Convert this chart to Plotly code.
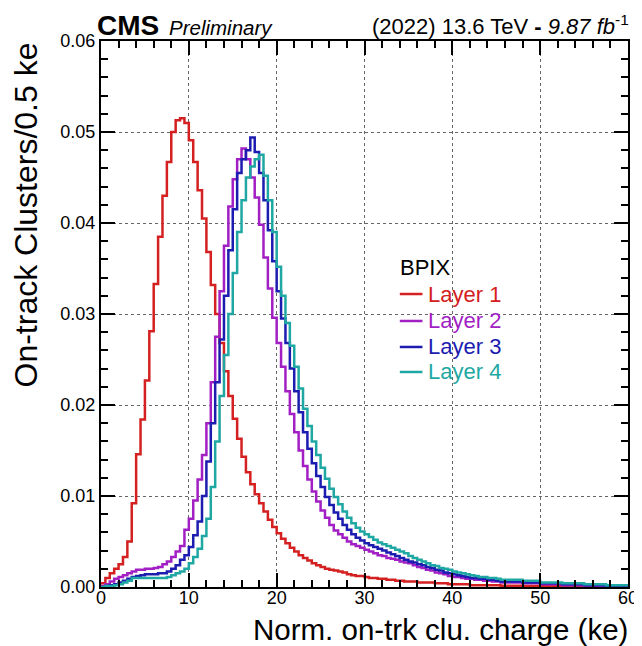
import plotly.graph_objects as go

# Bin edges: 0.5 ke bins from 0 to 60 ke
bin_width = 0.5
n_bins = 120
edges = [i * bin_width for i in range(n_bins + 1)]

layer1 = [
    0.0004, 0.0010, 0.0015, 0.0020, 0.0025, 0.0033, 0.0050, 0.0092, 0.0146, 0.0184,
    0.0227, 0.0281, 0.0333, 0.0385, 0.0430, 0.0467, 0.0500, 0.0513, 0.0515, 0.0510,
    0.0491, 0.0467, 0.0436, 0.0405, 0.0368, 0.0332, 0.0300, 0.0268, 0.0237, 0.0210,
    0.0185, 0.0163, 0.0143, 0.0126, 0.0113, 0.0102, 0.0092, 0.0083, 0.0074, 0.0066,
    0.0059, 0.0053, 0.0048, 0.0043, 0.0039, 0.0035, 0.0032, 0.0029, 0.0026, 0.0024,
    0.0022, 0.0020, 0.0019, 0.0018, 0.0017, 0.0016, 0.0014, 0.0013, 0.0012, 0.0012,
    0.0011, 0.0010, 0.0010, 0.0009, 0.0009, 0.0008, 0.0008, 0.0007, 0.0007, 0.0006,
    0.0006, 0.0006, 0.0005, 0.0005, 0.0005, 0.0005, 0.0004, 0.0004, 0.0004, 0.0003,
    0.0003, 0.0003, 0.0003, 0.0003, 0.0002, 0.0002, 0.0002, 0.0002, 0.0002, 0.0002,
    0.0002, 0.00015, 0.00015, 0.00015, 0.00015, 0.00015, 0.0001, 0.0001, 0.0001, 0.0001,
    0.0001, 0.0001, 0.0001, 0.0001, 0.0001, 0.00008, 0.00008, 0.00008, 0.00008, 0.00008,
    0.00006, 0.00006, 0.00006, 0.00006, 0.00006, 0.00005, 0.00005, 0.00005, 0.00005, 0.00005,
]

layer2 = [
    0.0001, 0.0003, 0.0006, 0.0009, 0.0011, 0.0013, 0.0015, 0.0017, 0.0019, 0.0019,
    0.0020, 0.0020, 0.0021, 0.0022, 0.0025, 0.0028, 0.0033, 0.0039, 0.0045, 0.0063,
    0.0075, 0.0095, 0.0118, 0.0145, 0.0180, 0.0225, 0.0275, 0.0325, 0.0375, 0.0418,
    0.0448, 0.0470, 0.0482, 0.0470, 0.0450, 0.0428, 0.0398, 0.0362, 0.0328, 0.0296,
    0.0268, 0.0242, 0.0215, 0.0190, 0.0170, 0.0150, 0.0133, 0.0118, 0.0105, 0.0094,
    0.0084, 0.0076, 0.0068, 0.0062, 0.0058, 0.0054, 0.0050, 0.0047, 0.0045, 0.0043,
    0.0041, 0.0039, 0.0037, 0.0035, 0.0034, 0.0032, 0.0031, 0.0030, 0.0028, 0.0027,
    0.0026, 0.0024, 0.0022, 0.0021, 0.0019, 0.0018, 0.0016, 0.0015, 0.0014, 0.0012,
    0.0011, 0.0011, 0.0010, 0.0009, 0.0009, 0.0008, 0.0008, 0.0007, 0.0007, 0.0006,
    0.0006, 0.0005, 0.0005, 0.0005, 0.0005, 0.0005, 0.0004, 0.0004, 0.0004, 0.0004,
    0.0003, 0.0003, 0.0003, 0.0003, 0.0003, 0.0002, 0.0002, 0.0002, 0.0002, 0.0002,
    0.00015, 0.00015, 0.00015, 0.00015, 0.00015, 0.0001, 0.0001, 0.0001, 0.0001, 0.0001,
]

layer3 = [
    0.0000, 0.0001, 0.0002, 0.0003, 0.0005, 0.0007, 0.0009, 0.0011, 0.0012, 0.0013,
    0.0014, 0.0014, 0.0014, 0.0015, 0.0015, 0.0017, 0.0020, 0.0024, 0.0030, 0.0035,
    0.0044, 0.0057, 0.0072, 0.0100, 0.0138, 0.0180, 0.0225, 0.0272, 0.0320, 0.0370,
    0.0415, 0.0455, 0.0470, 0.0480, 0.0494, 0.0478, 0.0455, 0.0425, 0.0392, 0.0358,
    0.0325, 0.0295, 0.0268, 0.0240, 0.0215, 0.0192, 0.0170, 0.0152, 0.0136, 0.0122,
    0.0110, 0.0099, 0.0090, 0.0082, 0.0075, 0.0068, 0.0063, 0.0058, 0.0054, 0.0051,
    0.0048, 0.0046, 0.0044, 0.0042, 0.0040, 0.0038, 0.0036, 0.0034, 0.0032, 0.0030,
    0.0028, 0.0027, 0.0025, 0.0024, 0.0022, 0.0021, 0.0019, 0.0018, 0.0016, 0.0015,
    0.0014, 0.0013, 0.0012, 0.0011, 0.0010, 0.0010, 0.0009, 0.0009, 0.0008, 0.0008,
    0.0007, 0.0006, 0.0006, 0.0006, 0.0006, 0.0006, 0.0005, 0.0005, 0.0005, 0.0005,
    0.0004, 0.0004, 0.0004, 0.0004, 0.0004, 0.0003, 0.0003, 0.0003, 0.0003, 0.0003,
    0.0002, 0.0002, 0.0002, 0.0002, 0.0002, 0.00015, 0.00015, 0.00015, 0.00015, 0.00015,
]

layer4 = [
    0.0000, 0.0001, 0.0001, 0.0002, 0.0003, 0.0005, 0.0007, 0.0010, 0.0010, 0.0010,
    0.0010, 0.0010, 0.0010, 0.0010, 0.0010, 0.0011, 0.0013, 0.0015, 0.0017, 0.0020,
    0.0026, 0.0033, 0.0042, 0.0056, 0.0075, 0.0110, 0.0160, 0.0210, 0.0255, 0.0300,
    0.0345, 0.0390, 0.0425, 0.0450, 0.0462, 0.0470, 0.0475, 0.0452, 0.0425, 0.0390,
    0.0352, 0.0320, 0.0290, 0.0265, 0.0242, 0.0218, 0.0196, 0.0177, 0.0160, 0.0145,
    0.0131, 0.0119, 0.0108, 0.0099, 0.0091, 0.0083, 0.0076, 0.0070, 0.0065, 0.0061,
    0.0058, 0.0055, 0.0052, 0.0049, 0.0047, 0.0045, 0.0043, 0.0041, 0.0039, 0.0037,
    0.0034, 0.0032, 0.0030, 0.0028, 0.0026, 0.0024, 0.0023, 0.0021, 0.0020, 0.0019,
    0.0017, 0.0016, 0.0015, 0.0014, 0.0013, 0.0012, 0.0011, 0.0011, 0.0010, 0.0010,
    0.0009, 0.0008, 0.0008, 0.0008, 0.0008, 0.0008, 0.0007, 0.0007, 0.0007, 0.0007,
    0.0005, 0.0005, 0.0005, 0.0005, 0.0005, 0.0004, 0.0004, 0.0004, 0.0004, 0.0004,
    0.0003, 0.0003, 0.0003, 0.0003, 0.0003, 0.0002, 0.0002, 0.0002, 0.0002, 0.0002,
]

series_names = ["Layer 1", "Layer 2", "Layer 3", "Layer 4"]
series_values = [layer1, layer2, layer3, layer4]
series_colors = ["#d42020", "#a21fc4", "#1c1cb0", "#1fa8a3"]
legend_header = "BPIX"

x_tick_vals = [0, 10, 20, 30, 40, 50, 60]
y_tick_vals = [0.00, 0.01, 0.02, 0.03, 0.04, 0.05, 0.06]

FONT = "Liberation Sans, Arial, Helvetica, sans-serif"

fig = go.Figure()
for name, vals, col in zip(series_names, series_values, series_colors):
    fig.add_trace(go.Scatter(
        x=edges,
        y=list(vals) + [vals[-1]],
        mode="lines",
        line=dict(color=col, width=2.5, shape="hv"),
        name=name,
        showlegend=False,
    ))

axis_common = dict(
    showline=True, linecolor="black", linewidth=2, mirror="allticks",
    ticks="inside", ticklen=14, tickwidth=1.5, tickcolor="black",
    showgrid=True, gridcolor="#666666", griddash="dot", gridwidth=1,
    zeroline=False,
    tickfont=dict(family=FONT, size=18, color="black"),
)

fig.update_xaxes(
    range=[0, 60], tickvals=x_tick_vals, ticklabelstandoff=-7,
    minor=dict(dtick=2, ticks="inside", ticklen=7, tickwidth=1.5, tickcolor="black", showgrid=False),
    **axis_common,
)
fig.update_yaxes(
    range=[0, 0.06], tickvals=y_tick_vals, tickformat=".2f",
    minor=dict(dtick=0.002, ticks="inside", ticklen=7, tickwidth=1.5, tickcolor="black", showgrid=False),
    **axis_common,
)

# Legend (ROOT-style TLegend: header + short line + coloured label)
leg_x_line0, leg_x_line1, leg_x_text = 0.567, 0.610, 0.616
leg_rows_y = [0.5366, 0.4872, 0.4396, 0.3938]
annotations = [
    dict(text=legend_header, x=0.563, y=0.586, xref="paper", yref="paper",
         xanchor="left", yanchor="middle", showarrow=False,
         font=dict(family=FONT, size=22, color="black")),
]
shapes = []
for name, col, ry in zip(series_names, series_colors, leg_rows_y):
    annotations.append(dict(text=name, x=leg_x_text, y=ry, xref="paper", yref="paper",
                            xanchor="left", yanchor="middle", showarrow=False,
                            font=dict(family=FONT, size=22, color=col)))
    shapes.append(dict(type="line", xref="paper", yref="paper",
                       x0=leg_x_line0, x1=leg_x_line1, y0=ry, y1=ry,
                       line=dict(color=col, width=2.5)))

annotations += [
    dict(text="<b>CMS</b>", x=0.0, y=1.0, xref="paper", yref="paper",
         xanchor="left", yanchor="bottom", xshift=-6, yshift=-2, showarrow=False,
         font=dict(family=FONT, size=28, color="black")),
    dict(text="<i>Preliminary</i>", x=0.125, y=1.0, xref="paper", yref="paper",
         xanchor="left", yanchor="bottom", yshift=0, showarrow=False,
         font=dict(family=FONT, size=20.5, color="black")),
    dict(text="(2022) 13.6 TeV <b>-</b> <i>9.87 fb</i><sup>-1</sup>", x=1.0, y=1.0,
         xref="paper", yref="paper", xanchor="right", yanchor="bottom", yshift=0, xshift=3,
         showarrow=False, font=dict(family=FONT, size=22, color="black")),
    dict(text="Norm. on-trk clu. charge (ke)", x=1.0, y=0.0, xref="paper", yref="paper",
         xanchor="right", yanchor="top", yshift=-24, xshift=2, showarrow=False,
         font=dict(family=FONT, size=29.5, color="black")),
    dict(text="On-track Clusters/0.5 ke", x=0.0, y=1.0, xref="paper", yref="paper",
         xanchor="center", yanchor="top", xshift=-76, showarrow=False, textangle=-90,
         font=dict(family=FONT, size=32, color="black")),
]

fig.update_layout(
    width=642, height=646,
    margin=dict(l=93, r=18, t=33, b=67, pad=0),
    paper_bgcolor="white", plot_bgcolor="white",
    font=dict(family=FONT, color="black"),
    showlegend=False,
    annotations=annotations,
    shapes=shapes,
)

fig.write_html("out.html")
